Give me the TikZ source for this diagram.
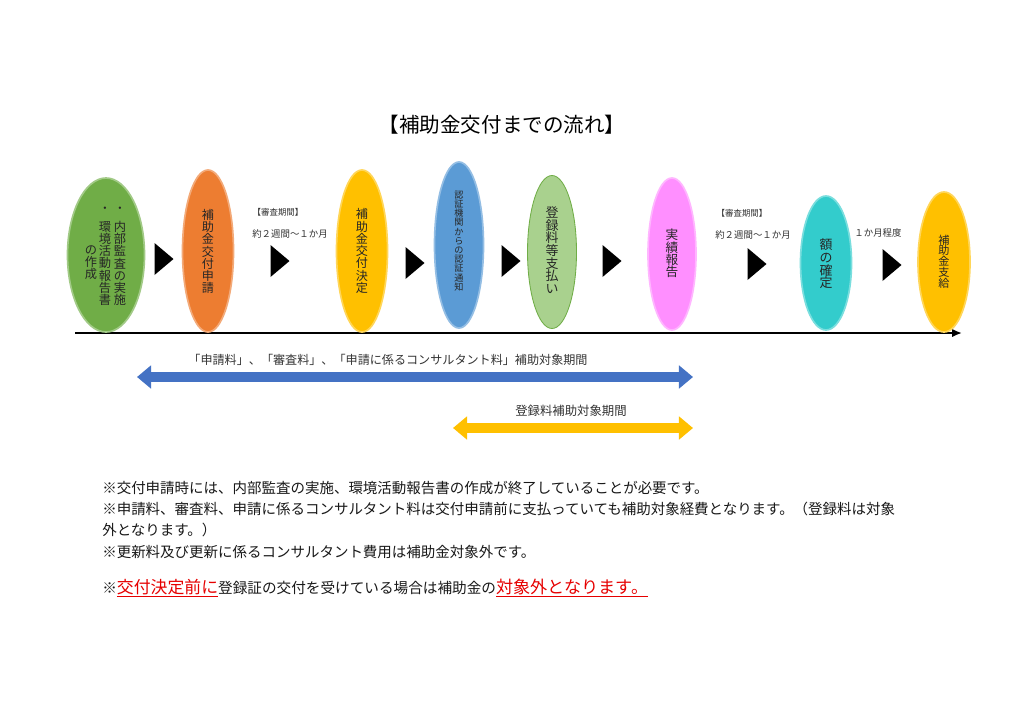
\documentclass[tikz,border=0pt]{standalone}
\usepackage{fontspec}
\setmainfont{Noto Sans CJK JP}
\usetikzlibrary{shapes.geometric,arrows.meta}
\definecolor{cGreen}{RGB}{112,173,71}
\definecolor{cOrange}{RGB}{237,125,49}
\definecolor{cYellow}{RGB}{255,192,0}
\definecolor{cBlue}{RGB}{91,155,213}
\definecolor{cLGreen}{RGB}{169,209,142}
\definecolor{cPink}{RGB}{255,143,255}
\definecolor{cTeal}{RGB}{51,204,204}
\definecolor{cArrBlue}{RGB}{68,114,196}
\definecolor{cRed}{RGB}{230,0,0}
\begin{document}
\begin{tikzpicture}[x=0.025cm,y=-0.025cm,
  ell/.style={ellipse, inner sep=0pt, draw=#1!65!white, line width=1.2pt, fill=#1},
  vt/.style={align=center, inner sep=0pt, text=black!85},
  lbl/.style={inner sep=0pt, text=black!80},
  note/.style={inner sep=0pt, anchor=west, text=black!90, font=\fontsize{10.3pt}{12pt}\selectfont},
  tri/.style={fill=black}]
\useasboundingbox[fill=white] (0,0) rectangle (1024,724);

% title
\node[inner sep=0pt, font=\fontsize{14.6pt}{16pt}\selectfont] (title) at (502,125) {【補助金交付までの流れ】};

% timeline
\coordinate (tl0) at (75,333);
\coordinate (tl1) at (962,333);
\draw[line width=1.5pt, -{Latex[length=7pt,width=6pt]}] (tl0) -- (tl1);

% ellipses
\node[ell=cGreen,  minimum width=77*0.025cm, minimum height=154*0.025cm] (e1) at (106,255) {};
\node[ell=cOrange, minimum width=51*0.025cm, minimum height=162*0.025cm] (e2) at (208,251) {};
\node[ell=cYellow, minimum width=51*0.025cm, minimum height=162*0.025cm] (e3) at (362,251) {};
\node[ell=cBlue,   minimum width=49*0.025cm, minimum height=166*0.025cm] (e4) at (459,245) {};
\node[ellipse, inner sep=0pt, fill=cLGreen, draw=cGreen, line width=0.6pt, minimum width=49*0.025cm, minimum height=153*0.025cm] (e5) at (552,252) {};
\node[ell=cPink,   minimum width=48*0.025cm, minimum height=152*0.025cm] (e6) at (672,254) {};
\node[ell=cTeal,   minimum width=51*0.025cm, minimum height=134*0.025cm] (e7) at (826,263) {};
\node[ell=cYellow, minimum width=52*0.025cm, minimum height=140*0.025cm] (e8) at (944,262) {};

% ellipse texts
\node[vt, font=\fontsize{8.7pt}{8.7pt}\selectfont] (t1a) at (120,263.5) {内\\部\\監\\査\\の\\実\\施};
\node[vt, font=\fontsize{8.7pt}{8.7pt}\selectfont] (t1b) at (105,263.5) {環\\境\\活\\動\\報\\告\\書};
\node[vt, font=\fontsize{8.7pt}{8.7pt}\selectfont] (t1c) at (91,262.5) {の\\作\\成};
\node[vt, font=\fontsize{8pt}{8.7pt}\selectfont] (t1d) at (120,210) {・};
\node[vt, font=\fontsize{8pt}{8.7pt}\selectfont] (t1e) at (105,210) {・};
\node[vt, font=\fontsize{8.6pt}{8.7pt}\selectfont] (t2) at (208,251.5) {補\\助\\金\\交\\付\\申\\請};
\node[vt, font=\fontsize{8.6pt}{8.7pt}\selectfont] (t3) at (362,251) {補\\助\\金\\交\\付\\決\\定};
\node[vt, font=\fontsize{6.5pt}{6.55pt}\selectfont] (t4) at (459,241) {認\\証\\機\\関\\か\\ら\\の\\認\\証\\通\\知};
\node[vt, font=\fontsize{9.2pt}{9pt}\selectfont] (t5) at (552,250) {登\\録\\料\\等\\支\\払\\い};
\node[vt, font=\fontsize{9pt}{8.8pt}\selectfont] (t6) at (672,253.5) {実\\績\\報\\告};
\node[vt, font=\fontsize{9.2pt}{9pt}\selectfont] (t7) at (826,264) {額\\の\\確\\定};
\node[vt, font=\fontsize{7.9pt}{7.7pt}\selectfont] (t8) at (944,261.5) {補\\助\\金\\支\\給};

% triangles
\foreach \cx/\cy in {164/259, 280/261, 415/263, 511/261, 612/261, 757/264, 892/265}
  \fill[tri] (\cx-9.5,\cy-16) -- (\cx+9.5,\cy) -- (\cx-9.5,\cy+16) -- cycle;

% period labels
\node[lbl, font=\fontsize{6pt}{7pt}\selectfont] (s1) at (278,212) {【審査期間】};
\node[lbl, font=\fontsize{6.7pt}{7pt}\selectfont] (s2) at (290,234) {約２週間～１か月};
\node[lbl, font=\fontsize{6pt}{7pt}\selectfont] (s3) at (742,213) {【審査期間】};
\node[lbl, font=\fontsize{6.7pt}{7pt}\selectfont] (s4) at (753,235) {約２週間～１か月};
\node[lbl, font=\fontsize{6.7pt}{7pt}\selectfont] (s5) at (878,233) {１か月程度};

% support period arrows
\coordinate (b1) at (137,377);
\coordinate (b2) at (693,377);
\draw[cArrBlue, line width=7pt, {Triangle[length=10pt,width=16pt]}-{Triangle[length=10pt,width=16pt]}] (b1) -- (b2);
\node[lbl, font=\fontsize{8.6pt}{10pt}\selectfont] (l1) at (388,360) {「申請料」、「審査料」、「申請に係るコンサルタント料」補助対象期間};

\coordinate (y1) at (453,428);
\coordinate (y2) at (693,428);
\draw[cYellow, line width=7pt, {Triangle[length=10pt,width=16pt]}-{Triangle[length=10pt,width=16pt]}] (y1) -- (y2);
\node[lbl, font=\fontsize{8.8pt}{10pt}\selectfont] (l2) at (571,411) {登録料補助対象期間};

% notes
\node[note] (n1) at (102,488) {※交付申請時には、内部監査の実施、環境活動報告書の作成が終了していることが必要です。};
\node[note] (n2) at (102,509) {※申請料、審査料、申請に係るコンサルタント料は交付申請前に支払っていても補助対象経費となります。（登録料は対象};
\node[note] (n3) at (102,530) {外となります。）};
\node[note] (n4) at (102,552) {※更新料及び更新に係るコンサルタント費用は補助金対象外です。};
\node[inner sep=0pt, anchor=base west, text=black!90, font=\fontsize{10.4pt}{12pt}\selectfont] (n5) at (102,593)
  {※{\fontsize{12pt}{14pt}\selectfont\color{cRed}\underline{交付決定前に}}登録証の交付を受けている場合は補助金の{\fontsize{12.2pt}{14pt}\selectfont\color{cRed}\underline{対象外となります。}}};
\end{tikzpicture}
\end{document}
